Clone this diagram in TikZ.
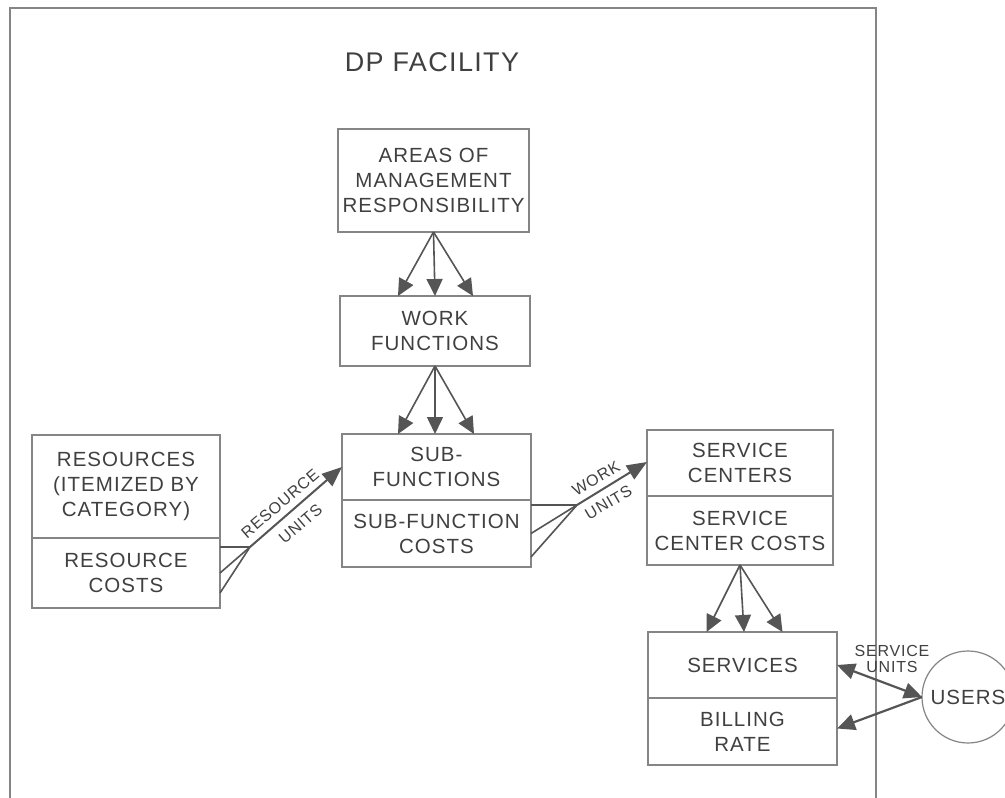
\documentclass[tikz,border=0pt]{standalone}
\usepackage{fontspec}
\setmainfont{Liberation Sans}[LetterSpace=5]
\usetikzlibrary{arrows.meta}
\definecolor{txt}{HTML}{404040}
\definecolor{boxc}{HTML}{858585}
\definecolor{arrc}{HTML}{555555}
\begin{document}
\begin{tikzpicture}[x=1pt,y=-1pt,
  boxpart/.style={draw=boxc, line width=1.2pt, inner sep=0pt, outer sep=0pt, align=center, text=txt, font=\fontsize{20.5}{25}\selectfont},
  smalllbl/.style={text=txt, font=\fontsize{16}{16}\selectfont, inner sep=0pt, align=center},
  arr/.style={draw=arrc, line width=1.6pt, -{Triangle[length=17pt,width=16pt]}},
  arrthick/.style={draw=arrc, line width=2.2pt},
  link/.style={draw=arrc, line width=1.6pt},
  ]
\useasboundingbox (0,0) rectangle (1005,798);
\fill[white] (0,0) rectangle (1005,798);
% facility frame
\draw[boxc, line width=1.2pt] (10,798) -- (10,8) -- (876,8) -- (876,798);
\node[text=txt, font=\fontsize{27}{30}\selectfont, inner sep=0pt] (title) at (432,62) {DP FACILITY};
% boxes
\node[boxpart, minimum width=191pt, minimum height=103pt] (areas) at (433.5,180.5) {AREAS OF\\MANAGEMENT\\RESPONSIBILITY};
\node[boxpart, minimum width=190pt, minimum height=70pt] (work) at (435,331) {WORK\\FUNCTIONS};
\node[boxpart, minimum width=189pt, minimum height=66pt] (subTop) at (436.5,467) {SUB-\\FUNCTIONS};
\node[boxpart, minimum width=189pt, minimum height=67pt] (subBot) at (436.5,533.5) {SUB-FUNCTION\\COSTS};
\node[boxpart, minimum width=188pt, minimum height=103pt] (resTop) at (126,486.5) {RESOURCES\\(ITEMIZED BY\\CATEGORY)};
\node[boxpart, minimum width=188pt, minimum height=70pt] (resBot) at (126,573) {RESOURCE\\COSTS};
\node[boxpart, minimum width=186pt, minimum height=66pt] (scTop) at (740,463) {SERVICE\\CENTERS};
\node[boxpart, minimum width=186pt, minimum height=69pt] (scBot) at (740,530.5) {SERVICE\\CENTER COSTS};
\node[boxpart, minimum width=189pt, minimum height=66pt] (svTop) at (742.5,665) {SERVICES};
\node[boxpart, minimum width=189pt, minimum height=67pt] (svBot) at (742.5,731.5) {BILLING\\RATE};
\node[boxpart, circle, minimum size=92pt] (users) at (968,697) {USERS};
% areas -> work
\draw[arr] (areas.south) -- ([xshift=-37pt]work.north);
\draw[arr] (areas.south) -- (work.north);
\draw[arr] (areas.south) -- ([xshift=38pt]work.north);
% work -> sub
\draw[arr] (work.south) -- ([xshift=-38.5pt]subTop.north);
\draw[arr] (work.south) -- ([xshift=-1.5pt]subTop.north);
\draw[arr] (work.south) -- ([xshift=37.5pt]subTop.north);
% service centers -> services
\draw[arr] (scBot.south) -- ([xshift=-36pt]svTop.north);
\draw[arr] (scBot.south) -- ([xshift=1.5pt]svTop.north);
\draw[arr] (scBot.south) -- ([xshift=40pt]svTop.north);
% resource units
\coordinate (j1) at (250,547);
\draw[link] ([yshift=26pt]resBot.east) -- (j1);
\draw[link] (resBot.east) -- (j1);
\draw[link] ([yshift=-20pt]resBot.east) -- (j1);
\draw[arr, line width=2pt, -{Triangle[length=20pt,width=16pt]}] (j1) -- (subTop.west);
\node[smalllbl, rotate=40.6] (ru1) at (280,503.5) {RESOURCE};
\node[smalllbl, rotate=40.6] (ru2) at (300.5,524) {UNITS};
% work units
\coordinate (j2) at (577,505);
\draw[link] ([yshift=28.5pt]subBot.east) -- (j2);
\draw[link] (subBot.east) -- (j2);
\draw[link] ([yshift=-23.5pt]subBot.east) -- (j2);
\draw[arr, line width=2pt, -{Triangle[length=20pt,width=16pt]}] (j2) -- ([yshift=1pt]scTop.west);
\node[smalllbl, rotate=30.4] (wu1) at (596,478.5) {WORK};
\node[smalllbl, rotate=30.4] (wu2) at (608.5,502.5) {UNITS};
% service units
\draw[arrthick, {Triangle[length=18pt,width=16pt]}-{Triangle[length=18pt,width=16pt]}] (svTop.east) -- (users.west);
\draw[arrthick, {Triangle[length=18pt,width=16pt]}-] ([yshift=3pt]svBot.east) -- (users.west);
\node[smalllbl] (su) at (892,659) {SERVICE\\UNITS};
\end{tikzpicture}
\end{document}
